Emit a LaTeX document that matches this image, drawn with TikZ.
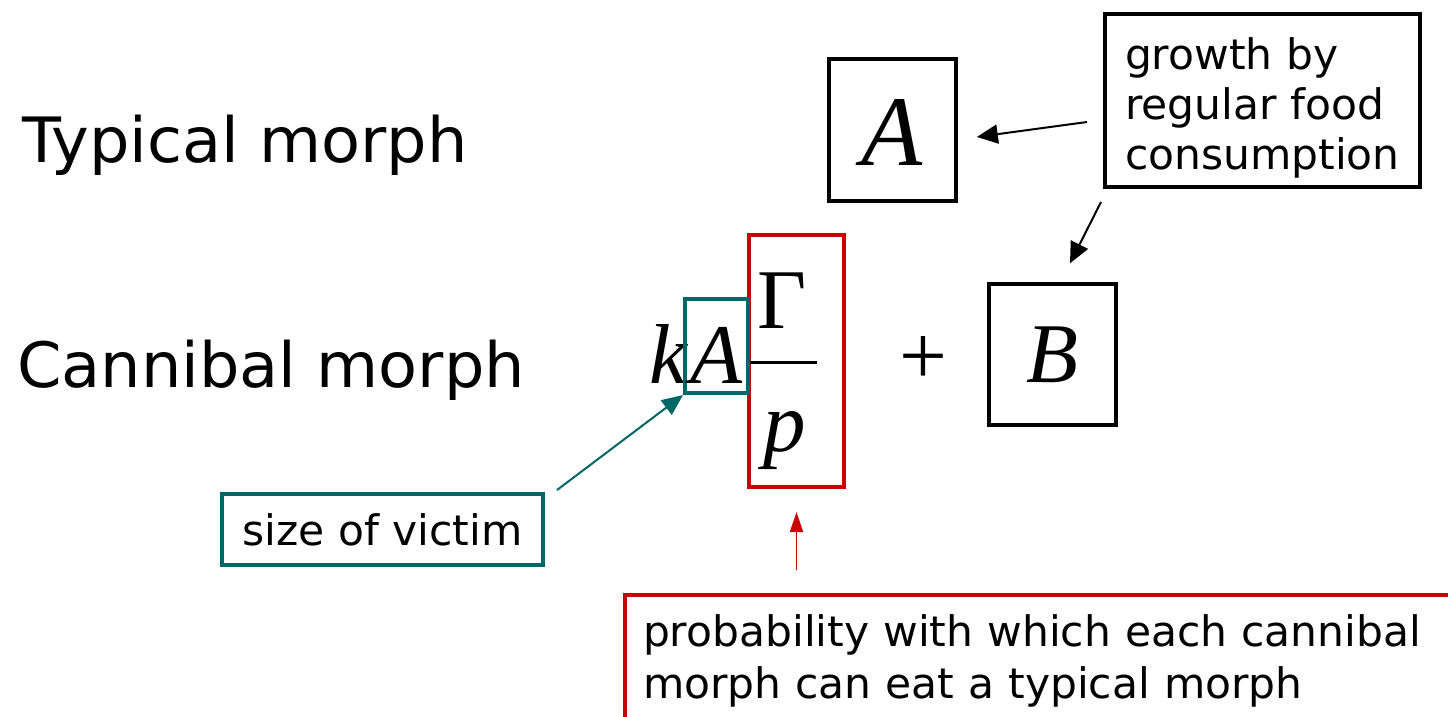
\documentclass[tikz,border=0pt]{standalone}
\usepackage{fontspec}
\setmainfont[FakeStretch=1.01]{DejaVu Sans}
\newfontfamily\widesans[FakeStretch=1.02]{DejaVu Sans}
\newfontfamily\tms{Liberation Serif}
\usetikzlibrary{arrows.meta,calc}
\definecolor{tealc}{RGB}{0,102,102}
\definecolor{redc}{RGB}{204,0,0}
\tikzset{
  bigtxt/.style={font=\widesans\fontsize{62.5}{74}\selectfont, inner sep=0pt, anchor=base west},
  smalltxt/.style={font=\fontsize{42}{50}\selectfont},
  mathbig/.style={font=\tms\itshape\fontsize{100}{110}\selectfont, inner sep=0pt},
  mathmid/.style={font=\tms\itshape\fontsize{85}{95}\selectfont, inner sep=0pt},
  mathup/.style={font=\tms\fontsize{85}{95}\selectfont, inner sep=0pt},
  blackbox/.style={draw=black, line width=4pt, inner sep=0pt, minimum width=127pt, minimum height=142pt},
  tealbox/.style={draw=tealc, line width=4pt, inner sep=0pt},
  redbox/.style={draw=redc, line width=4pt, inner sep=0pt},
  barr/.style={line width=2pt, draw=black, -{Triangle[length=21pt,width=19pt]}},
  tarr/.style={line width=2pt, draw=tealc, -{Triangle[length=21pt,width=18pt]}},
  rarr/.style={line width=1.6pt, draw=redc, -{Triangle[length=20pt,width=13pt]}},
}
\begin{document}
\begin{tikzpicture}[x=1pt,y=-1pt]
\useasboundingbox (0,0) rectangle (1448,716);
\clip (0,0) rectangle (1448,716);
\fill[white] (0,0) rectangle (1448,716);

% row labels
\node[bigtxt] (typ) at (22,162) {Typical morph};
\node[bigtxt] (can) at (17,387) {Cannibal morph};

% top box A
\node[blackbox, mathbig, text height=70pt, text depth=0pt] (boxA) at (892.5,130) {A};

% growth box
\node[draw=black, line width=4pt, smalltxt, anchor=north west, text width=275pt,
      inner xsep=20pt, inner ysep=9pt, align=left] (growth) at (1103,12)
  {\rule{0pt}{46pt}growth by\\regular food\\consumption};

% formula
\node[redbox, minimum width=95pt, minimum height=252pt] (rbox) at (796.5,361) {};
\node[mathmid, anchor=base west] (k) at (649,383) {k};
\node[tealbox, mathmid, minimum width=63pt, minimum height=94pt,
      text height=74pt, text depth=0pt] (kA) at (716.5,346) {A};
\node[mathup] (gam) at (782.5,301) {\char"0393};
\draw[line width=3pt] (750,362) -- (817,362);
\node[mathmid] (p) at (785,440.5) {p};
\node[mathup] (plus) at (923,360.5) {+};
\node[blackbox, mathmid, minimum height=141pt, text height=55pt, text depth=0pt] (boxB) at (1052.5,354.5) {B};

% size of victim
\node[tealbox, smalltxt, minimum width=321pt, minimum height=71pt,
      text height=31pt, text depth=0pt] (victim) at (382.5,529.5) {size of victim};

% probability box
\node[redbox, smalltxt, font=\fontsize{42}{52}\selectfont, anchor=north west,
      text width=830pt, inner xsep=18pt, inner ysep=20pt, align=left] (prob) at (623,593)
  {probability with which each cannibal\\morph can eat a typical morph};

% connectors
\coordinate (g1) at (1087,122);
\coordinate (g2) at (1101,202);
\coordinate (v1) at (557,490);
\draw[barr, shorten >=19pt] (g1) -- ($(boxA.east)+(0,9.5)$);
\draw[barr, shorten >=21pt] (g2) -- ($(boxB.north)+(8,0)$);
\draw[tarr] (v1) -- (kA.south west);
\draw[rarr, shorten <=23pt, shorten >=23pt] (rbox.south |- prob.north) -- (rbox.south);
\end{tikzpicture}
\end{document}
